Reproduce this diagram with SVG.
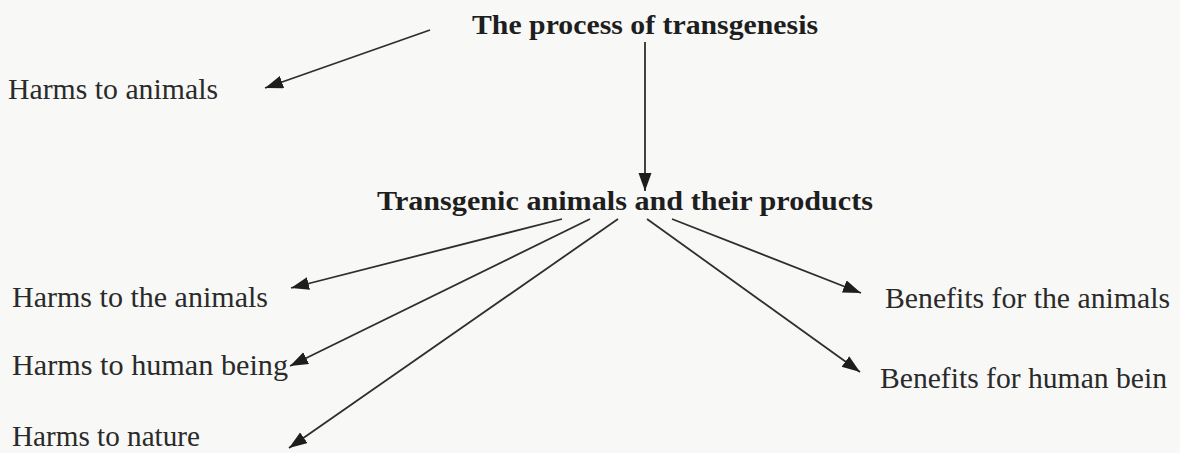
<svg xmlns="http://www.w3.org/2000/svg" width="1180" height="453" viewBox="0 0 1180 453">
<style>
.t{font-family:"Liberation Serif","Times New Roman",serif;font-size:29px;fill:#2a2a2a}
.b{font-size:28px;font-weight:bold;fill:#1e1e1e}
.c{stroke:#2e2e2e;stroke-width:1.8;fill:none;marker-end:url(#ah)}
</style>
<defs>
<marker id="ah" markerUnits="userSpaceOnUse" markerWidth="20" markerHeight="14" refX="18" refY="6.5" orient="auto">
<path d="M0,0 L18,6.5 L0,13 Z" fill="#1e1e1e"/>
</marker>
</defs>
<rect width="1180" height="453" fill="#f8f8f7"/>
<g id="connectors">
<line class="c" x1="430" y1="30" x2="265" y2="88"/>
<line class="c" x1="645" y1="42" x2="645" y2="191"/>
<line class="c" x1="562" y1="219" x2="291" y2="288"/>
<line class="c" x1="590" y1="219" x2="290" y2="366"/>
<line class="c" x1="618" y1="219" x2="289" y2="448"/>
<line class="c" x1="672" y1="219" x2="861" y2="293"/>
<line class="c" x1="647" y1="219" x2="860" y2="372"/>
</g>
<g id="n-process"><text class="t b" x="472" y="34" textLength="346" lengthAdjust="spacingAndGlyphs">The process of transgenesis</text></g>
<g id="n-harms-animals"><text class="t" x="8" y="99" textLength="210" lengthAdjust="spacingAndGlyphs">Harms to animals</text></g>
<g id="n-transgenic"><text class="t b" x="377" y="210" textLength="496" lengthAdjust="spacingAndGlyphs">Transgenic animals and their products</text></g>
<g id="n-harms-the-animals"><text class="t" x="12" y="307" textLength="256" lengthAdjust="spacingAndGlyphs">Harms to the animals</text></g>
<g id="n-harms-human"><text class="t" x="12" y="375" textLength="276" lengthAdjust="spacingAndGlyphs">Harms to human being</text></g>
<g id="n-harms-nature"><text class="t" x="12" y="446" textLength="188" lengthAdjust="spacingAndGlyphs">Harms to nature</text></g>
<g id="n-benefits-animals"><text class="t" x="885" y="308" textLength="285" lengthAdjust="spacingAndGlyphs">Benefits for the animals</text></g>
<g id="n-benefits-human"><text class="t" x="880" y="388" textLength="287" lengthAdjust="spacingAndGlyphs">Benefits for human bein</text></g>
</svg>
